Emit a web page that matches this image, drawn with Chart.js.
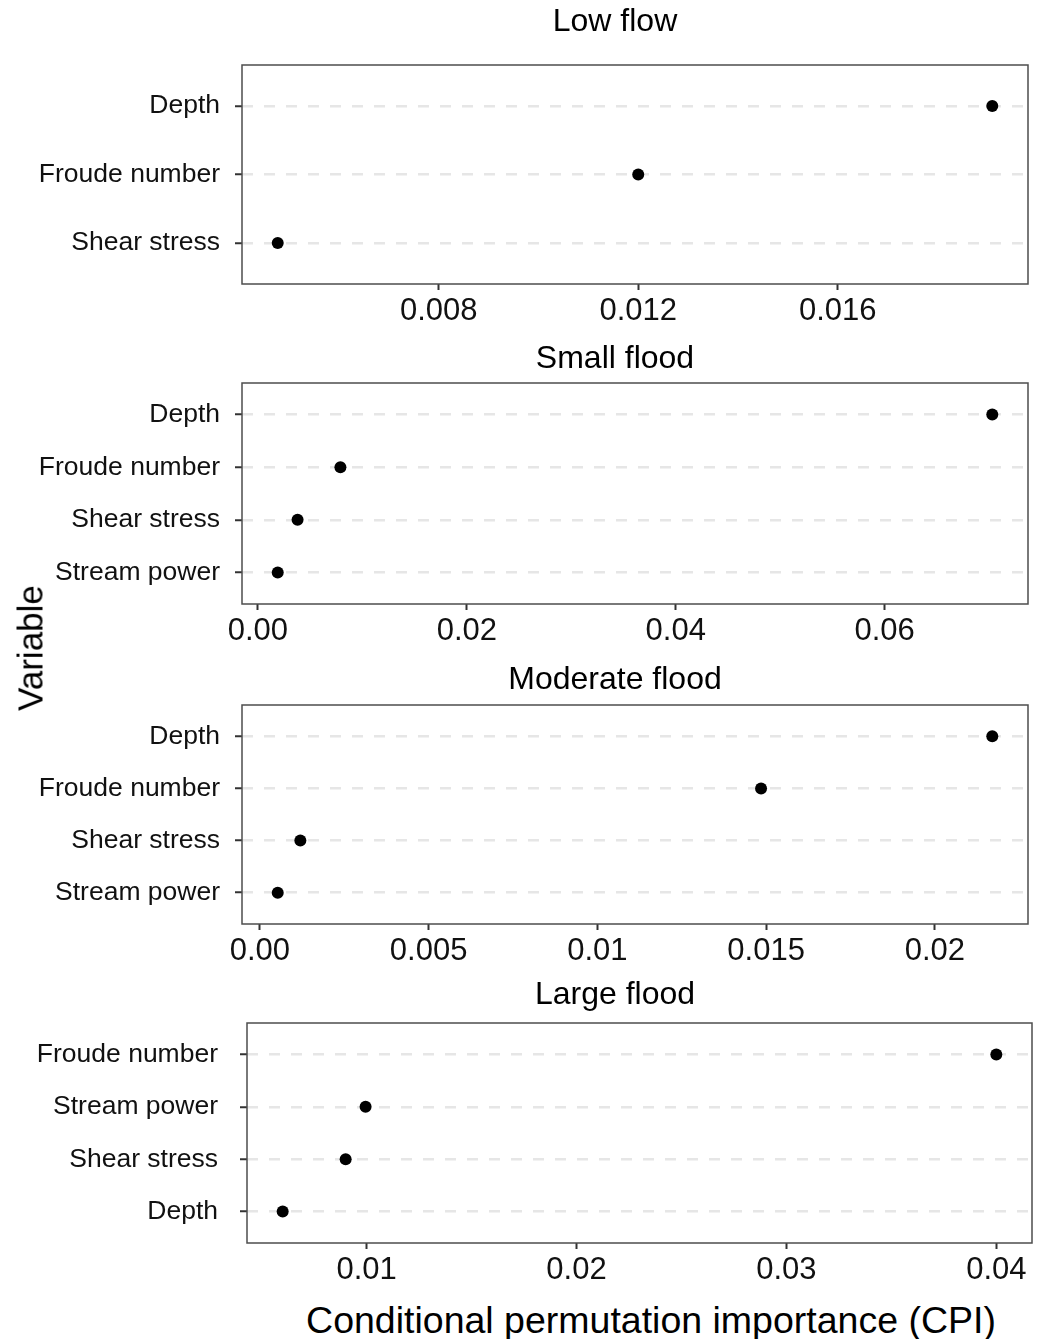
<!DOCTYPE html>
<html><head><meta charset="utf-8">
<script src="https://cdn.jsdelivr.net/npm/chart.js@4.4.1/dist/chart.umd.min.js"></script>
<style>
html,body{margin:0;padding:0;background:#fff;}
#wrap{position:relative;width:1054px;height:1339px;overflow:hidden;font-family:"Liberation Sans",Arial,sans-serif;background:#fff;}
canvas{position:absolute;left:0;}
.lab{position:absolute;color:#000;white-space:nowrap;line-height:1;}
#ylab{left:30px;top:648px;font-size:35px;transform:translate(-50%,-50%) rotate(-90deg);}
#xlab{left:651px;top:1321px;font-size:37.5px;transform:translate(-50%,-50%);}
</style></head><body>
<div id="wrap">
  <canvas id="c1"></canvas>
  <canvas id="c2"></canvas>
  <canvas id="c3"></canvas>
  <canvas id="c4"></canvas>
  <div class="lab" id="ylab">Variable</div>
  <div class="lab" id="xlab">Conditional permutation importance (CPI)</div>
</div>
<script>
// ---- data ----
const panelTitles = ['Low flow', 'Small flood', 'Moderate flood', 'Large flood'];

const lowFlowVars = ['Depth', 'Froude number', 'Shear stress'];
const lowFlowCPI = [0.0191, 0.0120, 0.00477];
const lowFlowTicks = [0.008, 0.012, 0.016];
const lowFlowTickLabels = ['0.008', '0.012', '0.016'];

const smallFloodVars = ['Depth', 'Froude number', 'Shear stress', 'Stream power'];
const smallFloodCPI = [0.0703, 0.0079, 0.0038, 0.0019];
const smallFloodTicks = [0, 0.02, 0.04, 0.06];
const smallFloodTickLabels = ['0.00', '0.02', '0.04', '0.06'];

const moderateFloodVars = ['Depth', 'Froude number', 'Shear stress', 'Stream power'];
const moderateFloodCPI = [0.0217, 0.01485, 0.0012, 0.00053];
const moderateFloodTicks = [0, 0.005, 0.01, 0.015, 0.02];
const moderateFloodTickLabels = ['0.00', '0.005', '0.01', '0.015', '0.02'];

const largeFloodVars = ['Froude number', 'Stream power', 'Shear stress', 'Depth'];
const largeFloodCPI = [0.0400, 0.00995, 0.0090, 0.0060];
const largeFloodTicks = [0.01, 0.02, 0.03, 0.04];
const largeFloodTickLabels = ['0.01', '0.02', '0.03', '0.04'];

// ---- layout (styling only) ----
const FONT = '"Liberation Sans", Arial, sans-serif';
const layouts = [
  {cTop: 0,   boxTop: 65,   boxBottom: 284,  boxLeft: 242, boxRight: 1028, titleY: 22,  labelRight: 220},
  {cTop: 330, boxTop: 383,  boxBottom: 604,  boxLeft: 242, boxRight: 1028, titleY: 359, labelRight: 220},
  {cTop: 652, boxTop: 705,  boxBottom: 924,  boxLeft: 242, boxRight: 1028, titleY: 680, labelRight: 220},
  {cTop: 966, boxTop: 1023, boxBottom: 1243, boxLeft: 247, boxRight: 1032, titleY: 995, labelRight: 218}
];

const deco = {
  id: 'panelDeco',
  afterDraw(chart, args, opts) {
    const {ctx, chartArea: a} = chart;
    ctx.save();
    ctx.strokeStyle = '#4d4d4d';
    ctx.lineWidth = 1.5;
    ctx.strokeRect(a.left, a.top, a.right - a.left, a.bottom - a.top);
    ctx.fillStyle = '#000';
    ctx.font = '32px ' + FONT;
    ctx.textAlign = 'center';
    ctx.textBaseline = 'middle';
    ctx.fillText(opts.title, 615, opts.titleY);
    ctx.restore();
  }
};

function makePanel(id, vars, vals, ticks, tickLabels, title, L) {
  const canvas = document.getElementById(id);
  const h = L.boxBottom + 50 - L.cTop;
  canvas.width = 1054; canvas.height = h;
  canvas.style.width = '1054px'; canvas.style.height = h + 'px';
  canvas.style.top = L.cTop + 'px';
  const lo = Math.min(...vals), hi = Math.max(...vals), pad = (hi - lo) * 0.05;
  return new Chart(canvas, {
    type: 'scatter',
    data: {datasets: [{
      data: vals.map((v, i) => ({x: v, y: i + 1})),
      pointRadius: 6, pointHoverRadius: 6,
      backgroundColor: '#000', borderColor: '#000', borderWidth: 0
    }]},
    options: {
      responsive: false, animation: false, events: [], devicePixelRatio: 1,
      layout: {padding: {top: L.boxTop - L.cTop, right: 1054 - L.boxRight, left: 0, bottom: 0}},
      plugins: {
        legend: {display: false}, tooltip: {enabled: false},
        panelDeco: {title: title, titleY: L.titleY - L.cTop}
      },
      scales: {
        x: {
          type: 'linear', min: lo - pad, max: hi + pad,
          afterBuildTicks: s => { s.ticks = ticks.map(v => ({value: v})); },
          afterFit: s => { s.height = 50; },
          ticks: {callback: (v, i) => tickLabels[i], font: {family: FONT, size: 31}, color: '#111', padding: 3, maxRotation: 0, autoSkip: false},
          grid: {display: true, drawOnChartArea: false, drawTicks: true, tickLength: 6, tickColor: '#333', tickWidth: 2},
          border: {display: false}
        },
        y: {
          type: 'linear', reverse: true, min: 0.4, max: vars.length + 0.6,
          afterBuildTicks: s => { s.ticks = vars.map((v, i) => ({value: i + 1})); },
          afterFit: s => { s.width = L.boxLeft; },
          ticks: {callback: (v, i) => vars[i], font: {family: FONT, size: 26.5}, color: '#111', padding: L.boxLeft - 7 - L.labelRight, autoSkip: false},
          grid: {display: true, color: '#e6e6e6', lineWidth: 2.5, drawTicks: true, tickLength: 7, tickColor: '#333', tickWidth: 2},
          border: {display: false, dash: [11, 11]}
        }
      }
    },
    plugins: [deco]
  });
}

makePanel('c1', lowFlowVars, lowFlowCPI, lowFlowTicks, lowFlowTickLabels, panelTitles[0], layouts[0]);
makePanel('c2', smallFloodVars, smallFloodCPI, smallFloodTicks, smallFloodTickLabels, panelTitles[1], layouts[1]);
makePanel('c3', moderateFloodVars, moderateFloodCPI, moderateFloodTicks, moderateFloodTickLabels, panelTitles[2], layouts[2]);
makePanel('c4', largeFloodVars, largeFloodCPI, largeFloodTicks, largeFloodTickLabels, panelTitles[3], layouts[3]);
</script>
</body></html>
